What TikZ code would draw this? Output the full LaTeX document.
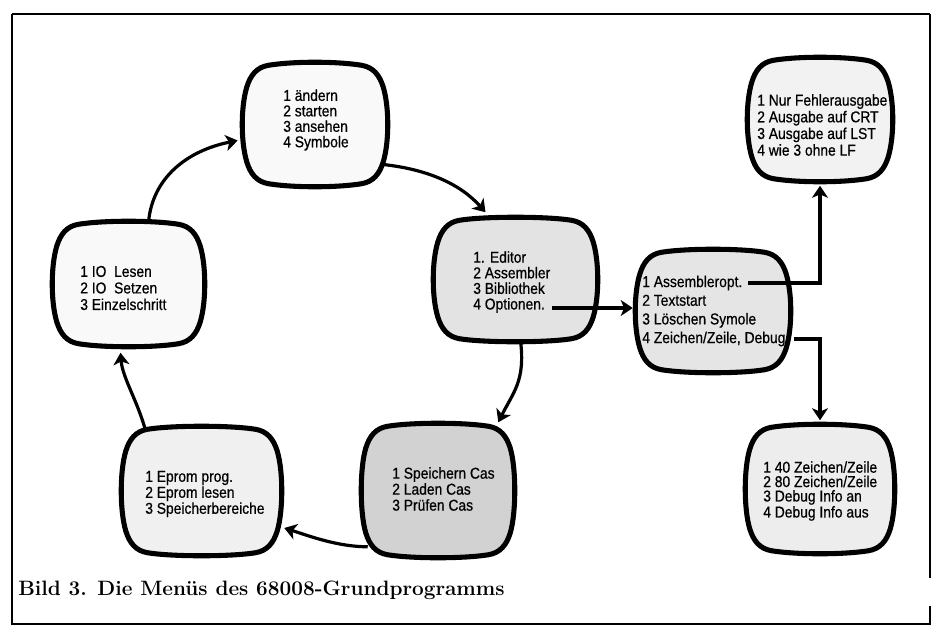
\documentclass[tikz,border=0pt]{standalone}
\usepackage{fontspec}
\newfontfamily\menufont[FakeStretch=0.88,FakeBold=0.6]{Liberation Sans}
\usetikzlibrary{calc,arrows.meta}
\tikzset{
  screen/.style={draw=none, inner sep=0pt, shape=rectangle},
  tvline/.style={line width=3.8pt, line join=round, draw=black},
  menu/.style={anchor=west, align=left, inner sep=0pt, text=black, font=\menufont\fontsize{11.8}{#1}\selectfont},
  conn/.style={draw=black, line width=2.4pt, -{Stealth[length=9pt,width=12pt,inset=2.5pt]}},
  outer/.style={line width=1.3pt},
  captionstyle/.style={anchor=west, inner sep=0pt, font=\fontsize{15.6}{18}\selectfont\bfseries},
}
\newcommand\tvframe[2]{%
  \draw[tvline, fill=#2] ($(#1.north west)+(22,0)$)
   .. controls ($(#1.north west)+(47,-4)$) and ($(#1.north east)+(-47,-4)$) .. ($(#1.north east)+(-22,0)$)
   .. controls ($(#1.north east)+(-10,1.9)$) and ($(#1.north east)+(-3.6,10)$) .. ($(#1.north east)+(0,22)$)
   .. controls ($(#1.north east)+(6,42)$) and ($(#1.south east)+(6,-42)$) .. ($(#1.south east)+(0,-22)$)
   .. controls ($(#1.south east)+(-3.6,-10)$) and ($(#1.south east)+(-10,-1.9)$) .. ($(#1.south east)+(-22,0)$)
   .. controls ($(#1.south east)+(-47,4)$) and ($(#1.south west)+(47,4)$) .. ($(#1.south west)+(22,0)$)
   .. controls ($(#1.south west)+(10,-1.9)$) and ($(#1.south west)+(3.6,-10)$) .. ($(#1.south west)+(0,-22)$)
   .. controls ($(#1.south west)+(-6,-42)$) and ($(#1.north west)+(-6,42)$) .. ($(#1.north west)+(0,22)$)
   .. controls ($(#1.north west)+(3.6,10)$) and ($(#1.north west)+(10,1.9)$) .. ($(#1.north west)+(22,0)$) -- cycle;}
\begin{document}
\begin{tikzpicture}[x=0.75pt,y=-0.75pt]
\useasboundingbox (0,0) rectangle (937,631);
% outer frame
\coordinate (f1) at (12,14);
\coordinate (f2) at (930,14);
\coordinate (f3) at (930,578);
\coordinate (f4) at (930,606);
\coordinate (f5) at (930,624);
\coordinate (f6) at (12,624);
\draw[outer, line width=2.2pt] (f1) -- (f2);
\draw[outer] (f2) -- (f3);
\draw[outer] (f4) -- (f5) -- (f6) -- (f1);

% screens
\node[screen, minimum width=102pt, minimum height=88.5pt] (s1) at (315,124.5) {};
\node[screen, minimum width=107.25pt, minimum height=89.25pt] (s2) at (128.5,284) {};
\node[screen, minimum width=116.25pt, minimum height=88.5pt] (s3) at (515.5,279.5) {};
\node[screen, minimum width=109.5pt, minimum height=87.75pt] (s4) at (713,311) {};
\node[screen, minimum width=102pt, minimum height=88.5pt] (s5) at (820,119.5) {};
\node[screen, minimum width=105pt, minimum height=92.25pt] (s6) at (820,489) {};
\node[screen, minimum width=108pt, minimum height=96pt] (s7) at (438,490.5) {};
\node[screen, minimum width=113.25pt, minimum height=92.25pt] (s8) at (201.5,491) {};
\tvframe{s1}{gray!5}
\tvframe{s2}{gray!5}
\tvframe{s3}{gray!22}
\tvframe{s4}{gray!20}
\tvframe{s5}{gray!10}
\tvframe{s6}{gray!14}
\tvframe{s7}{gray!35}
\tvframe{s8}{gray!12}

% texts
\node[menu=11.6pt] (t1) at (283,120) {1 ändern\\2 starten\\3 ansehen\\4 Symbole};
\node[menu=12.4pt] (t2) at (80,288) {1 IO\ \ Lesen\\2 IO\ \ Setzen\\3 Einzelschritt};
\node[menu=11.7pt] (t3) at (473,282) {1. Editor\\2 Assembler\\3 Bibliothek\\4 Optionen.};
\node[menu=14pt] (t4) at (642,311) {1 Assembleropt.\\2 Textstart\\3 Löschen Symole\\4 Zeichen/Zeile, Debug};
\node[menu=12.5pt] (t5) at (757,125) {1 Nur Fehlerausgabe\\2 Ausgabe auf CRT\\3 Ausgabe auf LST\\4 wie 3 ohne LF};
\node[menu=10.8pt] (t6) at (763,491) {1 40 Zeichen/Zeile\\2 80 Zeichen/Zeile\\3 Debug Info an\\4 Debug Info aus};
\node[menu=12pt] (t7) at (392,489) {1 Speichern Cas\\2 Laden Cas\\3 Prüfen Cas};
\node[menu=12pt] (t8) at (145,494) {1 Eprom prog.\\2 Eprom lesen\\3 Speicherbereiche};

% cycle connectors
\draw[conn] ($(s2.north)+(20,-2)$) .. controls +(4,-45) and +(-50,10) .. ($(s1.west)+(-9,16)$);
\draw[conn] ($(s1.east)+(0,40)$) .. controls +(45,5) and +(-25,-28) .. ($(s3.north)+(-30,-8)$);
\draw[conn] ($(s3.south)+(5,2)$) .. controls +(5,40) and +(15,-30) .. ($(s7.north east)+(-12,-4)$);
\draw[conn] ($(s7.south west)+(2,-8)$) .. controls +(-30,0) and +(25,8) .. ($(s8.east)+(7,37)$);
\draw[conn] ($(s8.north west)+(20,2)$) .. controls +(-8,-30) and +(2,25) .. ($(s2.south)+(-8,9)$);

% option connectors
\coordinate (opt) at (552,308);
\coordinate (aopt) at (748,283);
\coordinate (dbg) at (794,339);
\draw[conn, line width=2.4pt] (opt) -- ($(s4.west |- opt)+(-7,0)$);
\draw[conn, line width=2.4pt] (aopt) -| ($(s5.south)+(0,7)$);
\draw[conn, line width=2.4pt] (dbg) -| ($(s6.north)+(0,-7)$);

% caption
\node[captionstyle] (cap) at (18,590) {Bild 3. Die Menüs des 68008-Grundprogramms};
\end{tikzpicture}
\end{document}
